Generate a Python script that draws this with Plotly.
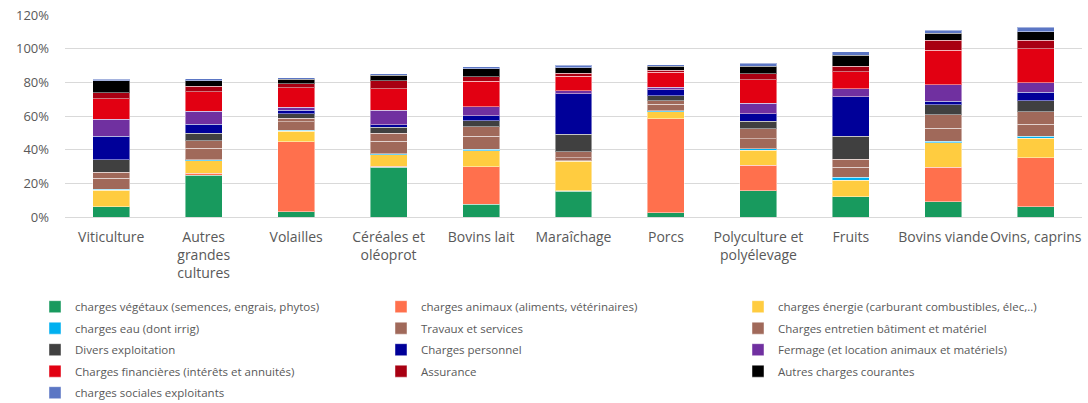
import plotly.graph_objects as go

categories = ["Viticulture", "Autres<br>grandes<br>cultures", "Volailles", "Céréales et<br>oléoprot",
              "Bovins lait", "Maraîchage", "Porcs", "Polyculture et<br>polyélevage", "Fruits",
              "Bovins viande", "Ovins, caprins"]

series_names = [
    "charges végétaux (semences, engrais, phytos)",
    "charges animaux (aliments, vétérinaires)",
    "charges énergie (carburant combustibles, élec,..)",
    "charges eau (dont irrig)",
    "Travaux et services",
    "Charges entretien bâtiment et matériel",
    "Divers exploitation",
    "Charges personnel",
    "Fermage (et location animaux et matériels)",
    "Charges financières (intérêts et annuités)",
    "Assurance",
    "Autres charges courantes",
    "charges sociales exploitants",
]

vegetaux    = [6.0, 24.9, 3.0, 29.5, 7.6, 15.3, 2.4, 15.7, 11.9, 9.0, 6.0]
animaux     = [0.0, 1.2, 41.8, 0.6, 22.3, 0.2, 55.9, 15.1, 0.2, 20.7, 29.3]
energie     = [10.0, 7.2, 6.2, 6.8, 9.6, 17.5, 4.2, 9.0, 9.8, 14.3, 11.5]
eau         = [0.4, 0.8, 0.6, 0.8, 0.8, 0.3, 0.6, 0.8, 1.8, 1.0, 1.2]
travaux     = [6.5, 6.8, 5.0, 7.4, 7.8, 2.0, 4.0, 6.0, 5.8, 7.8, 7.2]
entretien   = [3.6, 4.4, 2.0, 4.8, 5.4, 3.4, 2.0, 5.8, 4.8, 7.8, 7.2]
divers      = [7.4, 4.6, 2.8, 3.4, 3.6, 10.5, 3.0, 4.6, 13.7, 6.0, 6.6]
personnel   = [14.0, 5.2, 2.0, 1.6, 3.2, 23.9, 3.6, 4.4, 23.5, 2.2, 5.0]
fermage     = [10.3, 7.8, 1.8, 8.6, 5.2, 2.0, 1.4, 6.2, 4.6, 9.8, 5.8]
financieres = [12.0, 11.5, 11.5, 12.7, 15.1, 8.6, 9.0, 13.9, 10.1, 20.5, 20.3]
assurance   = [3.6, 3.2, 2.4, 4.6, 2.8, 1.8, 1.0, 3.6, 3.4, 5.8, 4.8]
autres      = [7.0, 3.4, 2.6, 3.4, 4.8, 3.2, 2.6, 4.6, 6.6, 4.4, 5.2]
sociales    = [1.0, 1.2, 1.0, 0.8, 1.2, 1.6, 0.8, 1.6, 2.0, 1.6, 2.6]

series_values = [vegetaux, animaux, energie, eau, travaux, entretien, divers,
                 personnel, fermage, financieres, assurance, autres, sociales]

colors = ["#189A5E", "#FF704D", "#FFCC40", "#00B0F0", "#A0695A", "#A0695A", "#404040",
          "#000099", "#7030A0", "#E20012", "#A80012", "#000000", "#5B76C4"]

y_ticks = [0, 20, 40, 60, 80, 100, 120]
y_tick_labels = ["0%", "20%", "40%", "60%", "80%", "100%", "120%"]

legend_ids = ["legend", "legend2", "legend3"]

fig = go.Figure()
for i, (name, vals, col) in enumerate(zip(series_names, series_values, colors)):
    fig.add_trace(go.Bar(
        name=name, x=categories, y=vals,
        legend=legend_ids[i % 3], legendgroup=name,
        marker=dict(color=col, line=dict(color="rgba(255,255,255,0.45)", width=1)),
    ))

font_family = "Open Sans, Noto Sans, sans-serif"
leg_common = dict(
    orientation="v", xref="container", yref="container",
    y=0.275, xanchor="left", yanchor="top",
    font=dict(size=11.5, color="#595959", family=font_family),
    itemwidth=30, traceorder="grouped", tracegroupgap=2.5,
    bgcolor="rgba(0,0,0,0)",
)
fig.update_layout(
    barmode="stack",
    bargap=0.6,
    width=1088, height=403,
    margin=dict(l=65, r=6, t=15, b=186, autoexpand=False),
    paper_bgcolor="white", plot_bgcolor="white",
    font=dict(family=font_family, color="#595959", size=12),
    showlegend=True,
    legend=dict(x=35 / 1088, **leg_common),
    legend2=dict(x=381 / 1088, **leg_common),
    legend3=dict(x=738 / 1088, **leg_common),
    xaxis=dict(
        tickfont=dict(size=14, color="#595959"), tickangle=0,
        showgrid=False, showline=False, ticks="", automargin=False,
        ticklabelstandoff=10,
    ),
    yaxis=dict(
        range=[0, 120], tickvals=y_ticks, ticktext=y_tick_labels,
        tickfont=dict(size=13, color="#595959"),
        showgrid=True, gridcolor="#D9D9D9", gridwidth=1,
        zeroline=True, zerolinecolor="#D9D9D9", zerolinewidth=1,
        showline=False, ticks="", ticklabelstandoff=15, automargin=False,
    ),
)

fig.write_html("out.html", config={"displayModeBar": False},
               post_script="document.body.style.margin='0';")
